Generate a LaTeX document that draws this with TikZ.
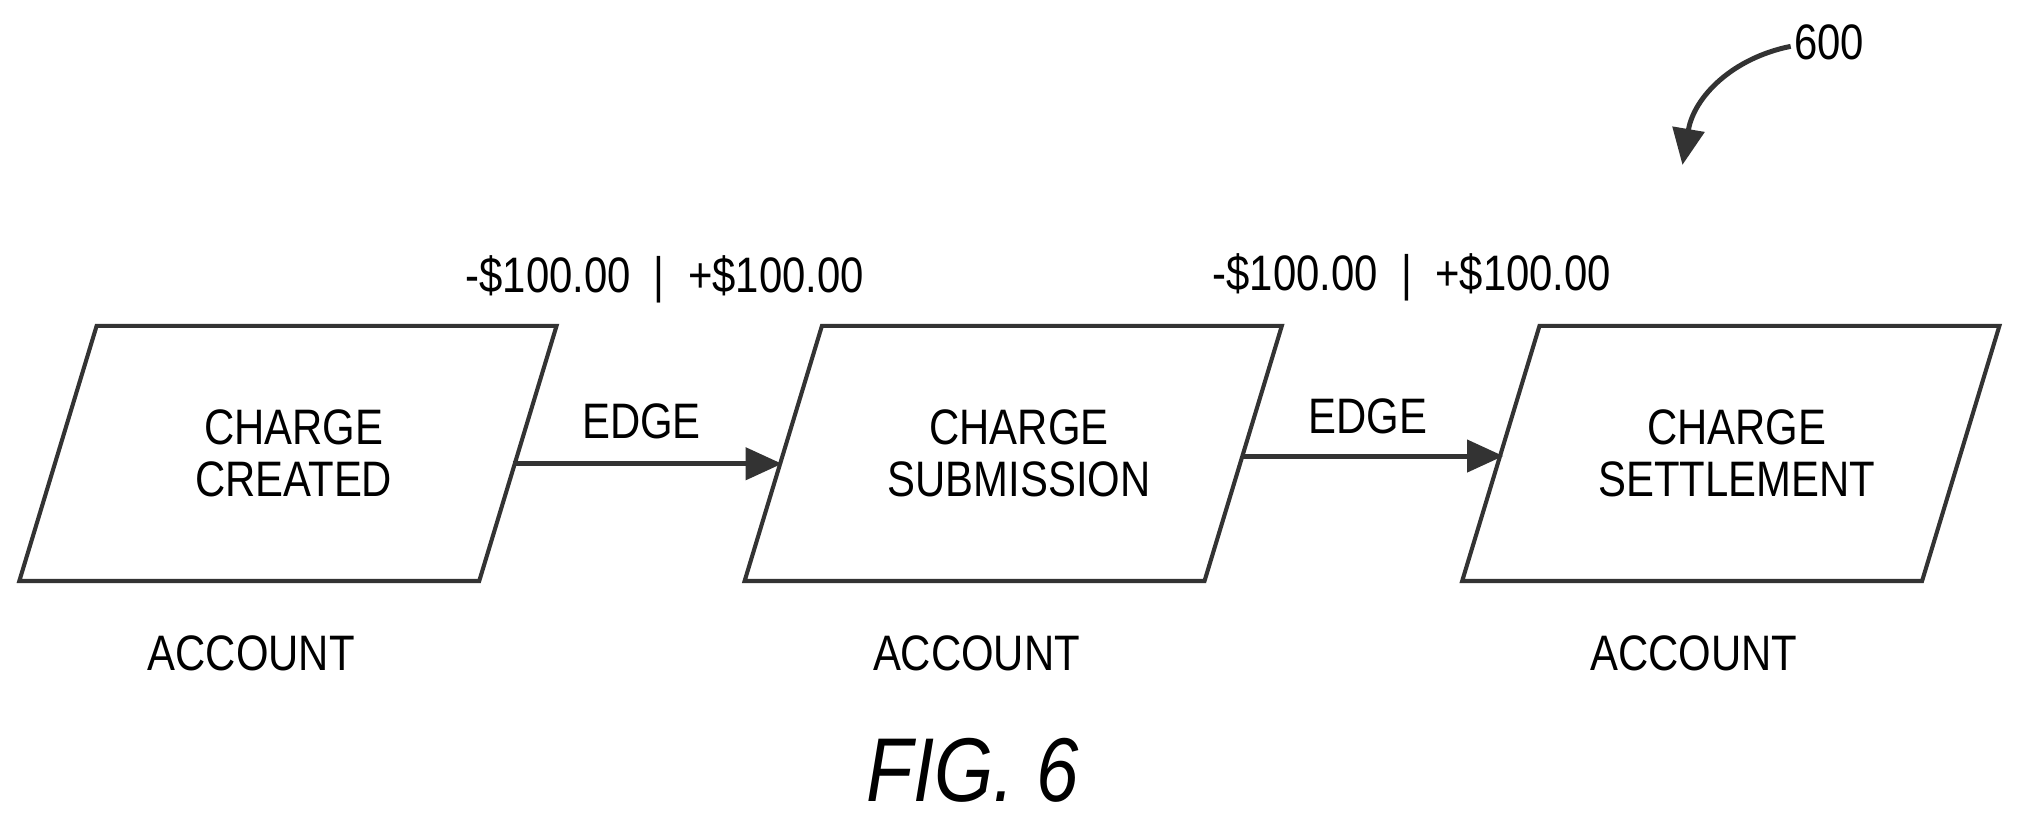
\documentclass[tikz,border=0pt]{standalone}
\usepackage{fontspec}
\setmainfont[FakeStretch=0.84]{Liberation Sans}
\usetikzlibrary{arrows.meta}
\begin{document}
\begin{tikzpicture}[x=0.01cm,y=-0.01cm,
  box/.style={draw=black!80,line width=0.9pt},
  lbl/.style={font=\fontsize{11}{11.5}\selectfont,align=center,inner sep=0pt},
  arr/.style={draw=black!80,line width=1.1pt,-{Triangle[length=8pt,width=7pt]}}]
\useasboundingbox (0,0) rectangle (1568,643);
\foreach \i/\x/\t in {1/0/{CHARGE\\CREATED},2/563/{CHARGE\\SUBMISSION},3/1120/{CHARGE\\SETTLEMENT}}{
  \draw[box] (\x+75,253) -- (\x+432,253) -- (\x+372,451) -- (\x+15,451) -- cycle;
  \node[lbl] (n\i) at (\x+228,352) {\t};
  \node[lbl] (a\i) at (\x+195,507) {ACCOUNT};
}
\coordinate (r1) at (398,360); \coordinate (l2) at (607,360);
\coordinate (r2) at (963,354); \coordinate (l3) at (1167,354);
\draw[arr] (r1) -- (l2);
\draw[arr] (r2) -- (l3);
\node[lbl] (e1) at (498,327) {EDGE};
\node[lbl] (e2) at (1062,323) {EDGE};
\node[lbl] (m1) at (516,217) {-\$100.00\ \ |\ \ +\$100.00};
\node[lbl] (m2) at (1096,215) {-\$100.00\ \ |\ \ +\$100.00};
\node[lbl,font=\fontsize{20}{21}\selectfont\itshape] (fig) at (755,598) {FIG. 6};
\node[lbl] (ref) at (1420,33) {600};
\coordinate (rs) at (1390,36);
\draw[arr] (rs) .. controls (1345,45) and (1315,75) .. (1306,128);
\end{tikzpicture}
\end{document}
